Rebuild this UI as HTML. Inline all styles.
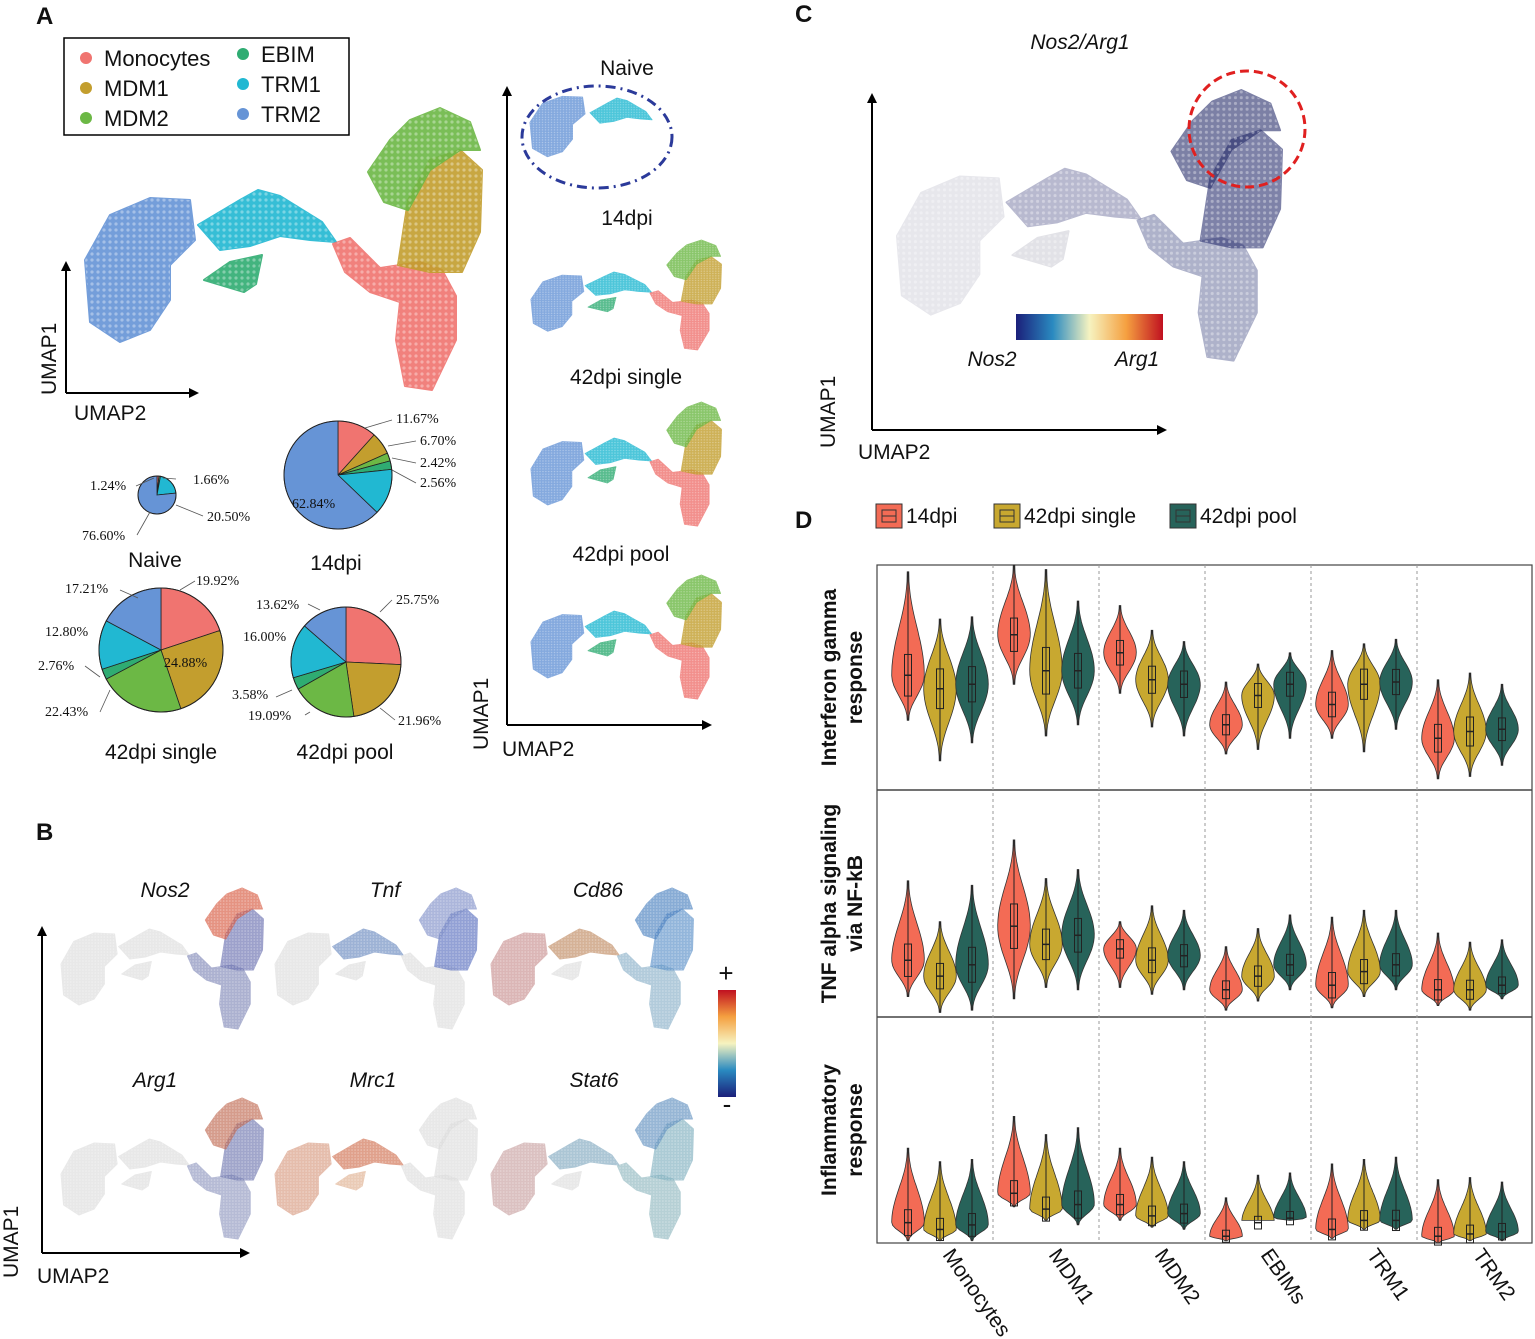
<!DOCTYPE html>
<html><head><meta charset="utf-8"><style>
html,body{margin:0;padding:0;background:#fff;}
svg{display:block;font-family:"Liberation Sans",sans-serif;}
</style></head><body>
<svg id="fig" width="1535" height="1339" viewBox="0 0 1535 1339" xmlns="http://www.w3.org/2000/svg">
<defs>
<marker id="arr" markerWidth="10" markerHeight="10" refX="8" refY="5" orient="auto" markerUnits="userSpaceOnUse"><path d="M0,0 L10,5 L0,10 z" fill="#000"/></marker>
<linearGradient id="cgrad" x1="0" x2="1" y1="0" y2="0"><stop offset="0" stop-color="#1b1f7a"/><stop offset="0.25" stop-color="#2a8ac0"/><stop offset="0.5" stop-color="#f6f3c0"/><stop offset="0.75" stop-color="#f5a040"/><stop offset="1" stop-color="#c01020"/></linearGradient>
<linearGradient id="vgrad" x1="0" x2="0" y1="1" y2="0"><stop offset="0" stop-color="#1b1f7a"/><stop offset="0.25" stop-color="#2a8ac0"/><stop offset="0.5" stop-color="#f6f3c0"/><stop offset="0.75" stop-color="#f5a040"/><stop offset="1" stop-color="#c01020"/></linearGradient>
<pattern id="speck" width="6" height="6" patternUnits="userSpaceOnUse"><circle cx="2" cy="2" r="1.6" fill="#fff" opacity="0.35"/></pattern>
</defs>
<g id="root"></g>
</svg>
<script>
const NS="http://www.w3.org/2000/svg";
const root=document.getElementById('root');
function el(tag,attrs,parent,txt){const e=document.createElementNS(NS,tag);for(const k in attrs)e.setAttribute(k,attrs[k]);if(txt!==undefined)e.textContent=txt;(parent||root).appendChild(e);return e;}

// ---------- data ----------
const clusterNames=["Monocytes","MDM1","MDM2","EBIM","TRM1","TRM2"];
const clusterColors=["#f07470","#c39e2e","#6cb845","#2fac72","#21b8d2","#6694d6"];
const pieNaive=[1.66,0.0,0.0,1.24,20.50,76.60];
const pie14=[11.67,6.70,2.42,2.56,13.81,62.84];
const pieSingle=[19.92,24.88,22.43,2.76,12.80,17.21];
const piePool=[25.75,21.96,19.09,3.58,16.00,13.62];

const violinCats=["Monocytes","MDM1","MDM2","EBIMs","TRM1","TRM2"];
const violinGroups=["14dpi","42dpi single","42dpi pool"];
const violinRows=["ifng","tnfa","inflam"];
const med=[
 [[.51,.45,.47],[.69,.53,.53],[.61,.49,.47],[.29,.42,.47],[.38,.47,.48],[.23,.26,.27]],
 [[.25,.18,.23],[.40,.32,.36],[.30,.25,.27],[.12,.18,.23],[.14,.20,.23],[.12,.12,.14]],
 [[.09,.06,.08],[.22,.15,.17],[.17,.12,.13],[.03,.09,.11],[.06,.10,.10],[.03,.04,.05]]];
const lo=[
 [[.31,.13,.21],[.47,.24,.29],[.43,.28,.24],[.16,.18,.23],[.23,.17,.27],[.05,.06,.11]],
 [[.09,.02,.03],[.08,.13,.12],[.13,.10,.12],[.03,.07,.12],[.04,.09,.12],[.05,.03,.08]],
 [[.01,.01,.01],[.16,.10,.08],[.10,.07,.06],[.01,.10,.10],[.02,.06,.06],[.0,.01,.01]]];
const hi=[
 [[.97,.76,.77],[1.0,.98,.84],[.82,.71,.66],[.48,.56,.61],[.62,.65,.67],[.49,.52,.47]],
 [[.60,.42,.58],[.78,.61,.65],[.42,.49,.47],[.31,.39,.45],[.44,.47,.47],[.37,.33,.34]],
 [[.42,.36,.37],[.56,.48,.51],[.42,.38,.36],[.20,.30,.31],[.35,.37,.38],[.28,.29,.27]]];

// ---------- helpers ----------
function T(x,y,s,opt,name){opt=opt||{};const t=el('text',Object.assign({x:x,y:y,'font-size':opt.fs||20,fill:'#111','text-anchor':opt.a||'start'},opt.at||{}),opt.p,s);return t;}
function arrowAxes(x0,y0,yTop,xRight,name){const g=el('g',{});
 el('line',{x1:x0,y1:y0,x2:x0,y2:yTop,stroke:'#000','stroke-width':2,'marker-end':'url(#arr)'},g);
 el('line',{x1:x0,y1:y0,x2:xRight,y2:y0,stroke:'#000','stroke-width':2,'marker-end':'url(#arr)'},g);return g;}

const shapes={
 TRM2:"M85,260 L110,215 L150,198 L190,200 L195,240 L170,265 L170,300 L150,330 L120,342 L90,322 Z",
 TRM1:"M198,225 L240,200 L258,190 L280,196 L322,222 L336,242 L310,240 L280,236 L250,246 L220,250 Z",
 EBIM:"M204,280 L230,262 L262,255 L256,284 L244,292 Z",
 Monocytes:"M333,244 L350,238 L380,268 L420,262 L442,270 L456,296 L456,340 L432,390 L405,386 L396,340 L400,302 L370,292 L345,272 Z",
 MDM1:"M398,265 L408,200 L430,160 L460,150 L482,170 L480,232 L462,272 L430,272 Z",
 MDM2:"M368,172 L390,140 L410,120 L440,108 L470,122 L480,150 L460,150 L430,170 L408,210 L384,202 Z"};
const shapeOrder=["TRM2","TRM1","EBIM","Monocytes","MDM1","MDM2"];
const shapeColor={TRM2:"#6694d6",TRM1:"#21b8d2",EBIM:"#2fac72",Monocytes:"#f07470",MDM1:"#c39e2e",MDM2:"#6cb845"};

function umap(tx,ty,sx,sy,fillFn,name,only,op){const g=el('g',{transform:`translate(${tx},${ty}) scale(${sx},${sy})`});
 
 shapeOrder.forEach(k=>{if(only&&only.indexOf(k)<0)return;const f=fillFn(k);
  const p=el('path',{d:shapes[k],fill:f,stroke:f,'stroke-width':2,'stroke-linejoin':'round',opacity:op||0.9},g);
  
  el('path',{d:shapes[k],fill:'url(#speck)'},g);});
 return g;}

// ---------- Panel A ----------
T(36,24,'A',{fs:24,at:{'font-weight':'bold'}},'panel-a-label');
const lg=el('g',{});
el('rect',{x:64,y:38,width:285,height:97,fill:'#fff',stroke:'#000','stroke-width':1.5},lg);
const legPos=[[86,58],[86,88],[86,118],[243,54],[243,84],[243,114]];
[0,1,2,3,4,5].forEach((ci,i)=>{const [x,y]=legPos[i];const c=el('circle',{cx:x,cy:y,r:6,fill:clusterColors[ci]},lg);
 T(x+18,y+8,clusterNames[ci],{fs:22,p:lg},'legend-entry');});

umap(0,0,1,1,k=>shapeColor[k],'umap-all-clusters');
arrowAxes(66,393,263,197,'umap-axes-a');
T(56,395,'UMAP1',{fs:21,at:{transform:'rotate(-90 56 395)'}},'y-axis-title');
T(74,420,'UMAP2',{fs:21},'x-axis-title');

function pie(cx,cy,r,vals,name){const g=el('g',{});
 const tot=vals.reduce((a,b)=>a+b,0);let a=-Math.PI/2;
 vals.forEach((v,i)=>{if(v<=0)return;const a2=a+v/tot*2*Math.PI;const large=(a2-a)>Math.PI?1:0;
  const p=el('path',{d:`M${cx},${cy} L${cx+r*Math.cos(a)},${cy+r*Math.sin(a)} A${r},${r} 0 ${large} 1 ${cx+r*Math.cos(a2)},${cy+r*Math.sin(a2)} Z`,fill:clusterColors[i],stroke:'#222','stroke-width':0.8},g);
  a=a2;});
 el('circle',{cx:cx,cy:cy,r:r,fill:'none',stroke:'#222','stroke-width':1},g);return g;}
pie(157,495,19,pieNaive,'pie-naive');
pie(338,475,54,pie14,'pie-14dpi');
pie(161,650,62,pieSingle,'pie-42dpi-single');
pie(346,662,55,piePool,'pie-42dpi-pool');
const pl=[[90,490,'1.24%'],[193,484,'1.66%'],[207,521,'20.50%'],[82,540,'76.60%'],[396,423,'11.67%'],[420,445,'6.70%'],[420,467,'2.42%'],[420,487,'2.56%'],[292,508,'62.84%'],
 [65,593,'17.21%'],[196,585,'19.92%'],[45,636,'12.80%'],[164,667,'24.88%'],[38,670,'2.76%'],[45,716,'22.43%'],
 [256,609,'13.62%'],[396,604,'25.75%'],[243,641,'16.00%'],[232,699,'3.58%'],[248,720,'19.09%'],[398,725,'21.96%']];
pl.forEach(p=>T(p[0],p[1],p[2],{fs:14,at:{'font-family':'Liberation Serif, serif'}},'pie-percent-label'));
const leaders=[[136,486,154,478],[176,479,163,478],[203,516,176,505],[137,535,150,512],[392,420,365,428],[416,441,388,446],[416,463,392,458],[416,483,392,470],
 [120,590,138,598],[195,581,180,590],[85,666,100,677],[100,712,110,690],[308,604,320,610],[392,600,380,612],[276,697,292,690],[305,715,310,712],[395,720,380,708]];
leaders.forEach(l=>{const ln=el('polyline',{points:`${l[0]},${l[1]} ${l[2]},${l[3]}`,stroke:'#555','stroke-width':0.8,fill:'none'});});
T(155,567,'Naive',{fs:21,a:'middle'},'pie-title-naive');
T(336,570,'14dpi',{fs:21,a:'middle'},'pie-title-14dpi');
T(161,759,'42dpi single',{fs:21,a:'middle'},'pie-title-42dpi-single');
T(345,759,'42dpi pool',{fs:21,a:'middle'},'pie-title-42dpi-pool');

arrowAxes(507,725,88,710,'umap-axes-timepoints');
T(488,750,'UMAP1',{fs:21,at:{transform:'rotate(-90 488 750)'}},'y-axis-title');
T(502,756,'UMAP2',{fs:21},'x-axis-title');
T(627,75,'Naive',{fs:21,a:'middle'},'title-naive');
umap(530-85*0.5,95-195*0.42,0.5,0.42,k=>shapeColor[k],'umap-naive',["TRM2"],0.8);
umap(590-198*0.45,98-190*0.42,0.45,0.42,k=>shapeColor[k],'umap-naive-trm1',["TRM1"],0.8);
const ell=el('ellipse',{cx:597,cy:137,rx:75,ry:51,fill:'none',stroke:'#2b3a9a','stroke-width':3,'stroke-dasharray':'10 5 2 5'});
T(627,225,'14dpi',{fs:21,a:'middle'},'title-14dpi');
umap(530-83*0.48,240-108*0.39,0.48,0.39,k=>shapeColor[k],'umap-14dpi',null,0.8);
T(626,384,'42dpi single',{fs:21,a:'middle'},'title-42dpi-single');
umap(530-83*0.48,402-108*0.44,0.48,0.44,k=>shapeColor[k],'umap-42dpi-single',null,0.8);
T(621,561,'42dpi pool',{fs:21,a:'middle'},'title-42dpi-pool');
umap(530-83*0.48,575-108*0.44,0.48,0.44,k=>shapeColor[k],'umap-42dpi-pool',null,0.8);

// ---------- Panel B ----------
T(36,840,'B',{fs:24,at:{'font-weight':'bold'}},'panel-b-label');
arrowAxes(42,1253,928,248,'umap-axes-b');
T(18,1278,'UMAP1',{fs:21,at:{transform:'rotate(-90 18 1278)'}},'y-axis-title');
T(37,1283,'UMAP2',{fs:21},'x-axis-title');
const genes=["Nos2","Tnf","Cd86","Arg1","Mrc1","Stat6"];
const geneHot={Nos2:{MDM2:'#d85a40',MDM1:'#6a70b0',Monocytes:'#8088b8'},Tnf:{MDM1:'#5a70c0',MDM2:'#8090c8',TRM1:'#6a8ac0'},Cd86:{TRM2:'#c89090',TRM1:'#c08a60',MDM1:'#5a90c8',MDM2:'#4a80c0',Monocytes:'#8ab0c8'},
 Arg1:{MDM2:'#c06850',MDM1:'#7078b0',Monocytes:'#9098c0'},Mrc1:{TRM2:'#d89a80',TRM1:'#d07050',EBIM:'#e0b090'},Stat6:{TRM2:'#c8a0a0',TRM1:'#80a8c0',MDM1:'#80b0c0',MDM2:'#6090c0',Monocytes:'#90b8c0'}};
const gpos=[[60,888],[274,888],[490,888],[60,1098],[274,1098],[490,1098]];
const gtit=[[165,897],[385,897],[598,897],[155,1087],[373,1087],[594,1087]];
genes.forEach((g,i)=>{const [x,y]=gpos[i];
 umap(x-83*0.51,y-108*0.5,0.51,0.5,k=>geneHot[g][k]||'#dcdcdc','umap-'+g.toLowerCase(),null,0.65);
 T(gtit[i][0],gtit[i][1],g,{fs:21,a:'middle',at:{'font-style':'italic'}},'title-'+g.toLowerCase());});
const cb=el('rect',{x:718,y:990,width:18,height:107,fill:'url(#vgrad)'});
T(726,982,'+',{fs:26,a:'middle'},'colorbar-max-label');
T(727,1113,'-',{fs:26,a:'middle'},'colorbar-min-label');

// ---------- Panel C ----------
T(795,22,'C',{fs:24,at:{'font-weight':'bold'}},'panel-c-label');
T(1080,49,'Nos2/Arg1',{fs:21,a:'middle',at:{'font-style':'italic'}},'title-nos2-arg1');
umap(895-83*0.97,90-108*0.96,0.97,0.96,k=>({MDM2:'#262c6a',MDM1:'#2a3070',Monocytes:'#7a7fa8',TRM1:'#8a8cb0',TRM2:'#d8d8e0',EBIM:'#d0d0d8'})[k],'umap-nos2-arg1',null,0.6);
const cc=el('circle',{cx:1247,cy:129,r:58,fill:'none',stroke:'#e02020','stroke-width':3,'stroke-dasharray':'9 5'});
arrowAxes(872,430,95,1165,'umap-axes-c');
T(835,448,'UMAP1',{fs:21,at:{transform:'rotate(-90 835 448)'}},'y-axis-title');
T(858,459,'UMAP2',{fs:21},'x-axis-title');
const cb2=el('rect',{x:1016,y:314,width:147,height:26,fill:'url(#cgrad)'});
T(992,366,'Nos2',{fs:21,a:'middle',at:{'font-style':'italic'}},'colorbar-label-nos2');
T(1137,366,'Arg1',{fs:21,a:'middle',at:{'font-style':'italic'}},'colorbar-label-arg1');

// ---------- Panel D ----------
T(795,528,'D',{fs:24,at:{'font-weight':'bold'}},'panel-d-label');
const vcol=["#f36b55","#c8a830","#27635a"];
const vleg=[[876,'14dpi'],[994,'42dpi single'],[1170,'42dpi pool']];
vleg.forEach((l,i)=>{const g=el('g',{});
 el('rect',{x:l[0],y:504,width:26,height:24,fill:vcol[i],stroke:'#333','stroke-width':1},g);
 el('rect',{x:l[0]+6,y:510,width:14,height:12,fill:'none',stroke:'#333','stroke-width':1},g);
 el('line',{x1:l[0]+6,y1:516,x2:l[0]+20,y2:516,stroke:'#333'},g);
 T(l[0]+30,523,l[1],{fs:21,p:g},'legend-label');});
const px0=877,px1=1532,rowTop=[565,790,1017],rowH=[225,227,226];
const frame=el('rect',{x:px0,y:565,width:px1-px0,height:678,fill:'none',stroke:'#444','stroke-width':1.2});
[790,1017].forEach(y=>{const l=el('line',{x1:px0,y1:y,x2:px1,y2:y,stroke:'#444','stroke-width':1.5});});
const catW=106;
function catX(c){return 940+catW*c;}
for(let c=1;c<violinCats.length;c++){const x=catX(c)-53;const l=el('line',{x1:x,y1:565,x2:x,y2:1243,stroke:'#999','stroke-dasharray':'3 3','stroke-width':1});}
function yOf(r,v){return rowTop[r]+rowH[r]-v*rowH[r];}
const gOff=[-32,0,32];
violinRows.forEach((rn,r)=>{violinCats.forEach((cn,c)=>{violinGroups.forEach((gn,g)=>{
 const cx=catX(c)+gOff[g];const yt=yOf(r,hi[r][c][g]),yb=yOf(r,lo[r][c][g]),ym=yOf(r,med[r][c][g]);
 const W=15.5;const N=30;let L=[],R=[];
 for(let i=0;i<=N;i++){const y=yt+(yb-yt)*i/N;let t=(y<ym)?(y-yt)/(ym-yt):(yb-y)/(yb-ym);t=Math.max(0,Math.min(1,t));
  const w=W*Math.pow(Math.sin(t*Math.PI/2),2.2)+0.8;L.push(`${(cx-w).toFixed(1)},${y.toFixed(1)}`);R.unshift(`${(cx+w).toFixed(1)},${y.toFixed(1)}`);}
 const vg=el('g',{});
 el('polygon',{points:L.concat(R).join(' '),fill:vcol[g],stroke:'#333','stroke-width':0.8},vg);
 el('line',{x1:cx,y1:yt,x2:cx,y2:yb,stroke:'#222','stroke-width':1},vg);
 const bh=Math.max(6,(yb-yt)*0.14);el('rect',{x:cx-3.5,y:ym-bh,width:7,height:bh*2,fill:'none',stroke:'#222','stroke-width':1},vg);
 el('line',{x1:cx-3.5,y1:ym,x2:cx+3.5,y2:ym,stroke:'#222','stroke-width':1.5},vg);
});});});
const rlab=[["Interferon gamma","response"],["TNF alpha signaling","via NF-kB"],["Inflammatory","response"]];
rlab.forEach((l,r)=>{const cy=rowTop[r]+rowH[r]/2;
 T(836,cy,l[0],{fs:21,a:'middle',at:{'font-weight':'bold',transform:`rotate(-90 836 ${cy})`}},'row-label');
 T(862,cy,l[1],{fs:21,a:'middle',at:{'font-weight':'bold',transform:`rotate(-90 862 ${cy})`}},'row-label');});
violinCats.forEach((cn,c)=>{const x=catX(c)+2,y=1255;T(x,y,cn,{fs:21,at:{transform:`rotate(55 ${x} ${y})`}},'x-tick-'+cn.toLowerCase());});
</script>
</body></html>
